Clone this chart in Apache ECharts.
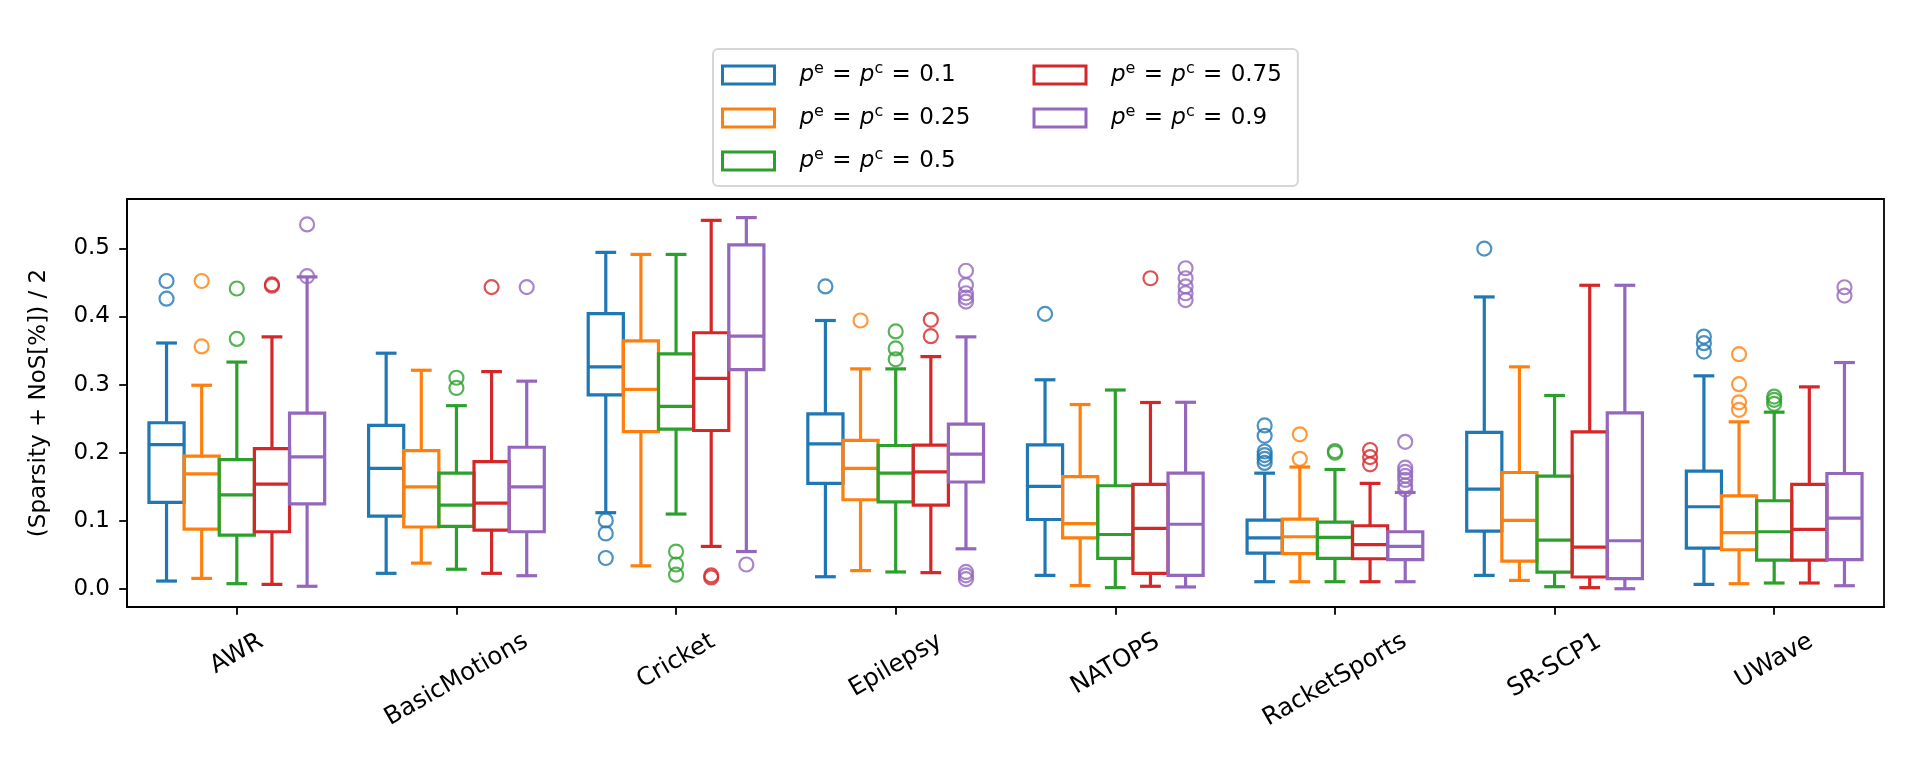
<!DOCTYPE html>
<html><head><meta charset="utf-8">
<script src="https://cdn.jsdelivr.net/npm/echarts@6/dist/echarts.min.js"></script>
<style>html,body{margin:0;padding:0;background:#fff}#c{width:1913px;height:766px}</style>
</head><body><div id="c"></div><script>
// ---- data ----
const categories = ['AWR','BasicMotions','Cricket','Epilepsy','NATOPS','RacketSports','SR-SCP1','UWave'];
const pValues = ['0.1','0.25','0.5','0.75','0.9'];
const colors = ['#1f77b4','#ff7f0e','#2ca02c','#d62728','#9467bd'];
const yTicks = [0, 0.1, 0.2, 0.3, 0.4, 0.5];

// [lower whisker, Q1, median, Q3, upper whisker] per category
const box_p01 = [
  [0.0117,0.127,0.212,0.244,0.361],
  [0.023,0.107,0.177,0.240,0.346],
  [0.112,0.285,0.326,0.404,0.494],
  [0.018,0.155,0.213,0.257,0.394],
  [0.020,0.102,0.1505,0.2116,0.307],
  [0.0107,0.0528,0.075,0.101,0.170],
  [0.020,0.085,0.1466,0.2297,0.4286],
  [0.0068,0.060,0.1207,0.173,0.3128]
];
const box_p025 = [
  [0.0156,0.088,0.169,0.195,0.299],
  [0.038,0.091,0.150,0.203,0.321],
  [0.034,0.231,0.293,0.364,0.491],
  [0.027,0.131,0.177,0.218,0.323],
  [0.005,0.075,0.096,0.165,0.2707],
  [0.0107,0.052,0.0767,0.1026,0.179],
  [0.0126,0.041,0.1006,0.171,0.326],
  [0.0078,0.0576,0.0826,0.1368,0.2453]
];
const box_p05 = [
  [0.0078,0.079,0.138,0.190,0.333],
  [0.029,0.092,0.123,0.170,0.269],
  [0.110,0.2346,0.268,0.345,0.491],
  [0.025,0.128,0.170,0.2106,0.323],
  [0.002,0.045,0.080,0.1515,0.292],
  [0.0107,0.045,0.0757,0.098,0.1754],
  [0.0034,0.0249,0.0718,0.1657,0.284],
  [0.0088,0.0425,0.084,0.1295,0.2595]
];
const box_p075 = [
  [0.0068,0.084,0.154,0.206,0.370],
  [0.023,0.0865,0.126,0.187,0.319],
  [0.0625,0.2326,0.309,0.376,0.541],
  [0.024,0.123,0.172,0.211,0.341],
  [0.004,0.023,0.089,0.1534,0.2737],
  [0.0107,0.0444,0.065,0.0928,0.155],
  [0.002,0.0176,0.0616,0.2306,0.4457],
  [0.0088,0.0425,0.0874,0.1534,0.2966]
];
const box_p09 = [
  [0.004,0.125,0.194,0.258,0.458],
  [0.0195,0.084,0.150,0.208,0.305],
  [0.055,0.322,0.371,0.505,0.545],
  [0.059,0.157,0.198,0.242,0.370],
  [0.003,0.020,0.095,0.170,0.274],
  [0.0107,0.043,0.0625,0.084,0.1417],
  [0.0004,0.0151,0.0708,0.2585,0.4457],
  [0.0048,0.043,0.104,0.1695,0.3323]
];
// outliers: [category index, value]
const out_p01 = [[0,0.452],[0,0.426],[2,0.1006],[2,0.0815],[2,0.0455],[3,0.444],[4,0.4037],
  [5,0.240],[5,0.2248],[5,0.2018],[5,0.1965],[5,0.191],[5,0.185],[6,0.4995],[7,0.3704],[7,0.3607],[7,0.3484]];
const out_p025 = [[0,0.452],[0,0.356],[3,0.394],[5,0.227],[5,0.191],[7,0.3446],[7,0.3006],[7,0.274],[7,0.263]];
const out_p05 = [[0,0.441],[0,0.367],[1,0.310],[1,0.295],[2,0.055],[2,0.036],[2,0.021],[3,0.378],[3,0.353],[3,0.337],
  [5,0.2025],[5,0.200],[7,0.2824],[7,0.2776],[7,0.2717]];
const out_p075 = [[0,0.447],[0,0.445],[1,0.443],[2,0.020],[2,0.017],[3,0.395],[3,0.371],[4,0.456],[5,0.204],[5,0.1935],[5,0.183]];
const out_p09 = [[0,0.535],[0,0.459],[1,0.443],[2,0.036],[3,0.467],[3,0.446],[3,0.434],[3,0.4276],[3,0.4217],
  [3,0.025],[3,0.020],[3,0.0145],[4,0.4707],[4,0.456],[4,0.444],[4,0.434],[4,0.424],
  [5,0.216],[5,0.178],[5,0.172],[5,0.166],[5,0.160],[5,0.152],[5,0.146],[7,0.4428],[7,0.4305]];

const boxes = [box_p01, box_p025, box_p05, box_p075, box_p09];
const outliers = [out_p01, out_p025, out_p05, out_p075, out_p09];

// ---- layout ----
const FONT = 'DejaVu Sans';
const FS = 23;
const FSX = 24.5;
const BOX_W = 0.16;
const LW = 3.2;
const GRID = {left: 127, right: 29, top: 199, bottom: 159};

function makeRender(color) {
  return function (params, api) {
    const x = api.value(0);
    const pLo = api.coord([x, api.value(1)]);
    const pQ1 = api.coord([x, api.value(2)]);
    const pMed = api.coord([x, api.value(3)]);
    const pQ3 = api.coord([x, api.value(4)]);
    const pHi = api.coord([x, api.value(5)]);
    const bw = api.size([BOX_W, 0])[0];
    const cw = bw / 2;
    const cx = pLo[0];
    const st = {stroke: color, lineWidth: LW, fill: null};
    const stc = {stroke: color, lineWidth: LW, fill: null, lineCap: 'square'};
    return {type: 'group', children: [
      {type: 'line', shape: {x1: cx, y1: pQ1[1], x2: cx, y2: pLo[1]}, style: st},
      {type: 'line', shape: {x1: cx, y1: pQ3[1], x2: cx, y2: pHi[1]}, style: st},
      {type: 'line', shape: {x1: cx - cw / 2, y1: pLo[1], x2: cx + cw / 2, y2: pLo[1]}, style: stc},
      {type: 'line', shape: {x1: cx - cw / 2, y1: pHi[1], x2: cx + cw / 2, y2: pHi[1]}, style: stc},
      {type: 'rect', shape: {x: cx - bw / 2, y: pQ3[1], width: bw, height: pQ1[1] - pQ3[1]},
        style: {stroke: color, lineWidth: LW, fill: null, lineJoin: 'miter'}},
      {type: 'line', shape: {x1: cx - bw / 2, y1: pMed[1], x2: cx + bw / 2, y2: pMed[1]}, style: st}
    ]};
  };
}

const series = [];
boxes.forEach((b, j) => {
  const off = (j - 2) * BOX_W;
  const name = 'p' + pValues[j];
  series.push({
    type: 'custom', name: name, renderItem: makeRender(colors[j]),
    itemStyle: {color: colors[j]},
    encode: {x: 0, y: [1, 2, 3, 4, 5]},
    data: b.map((r, i) => [i + off].concat(r)),
    z: 2 + j, silent: true
  });
  series.push({
    type: 'scatter', name: name, symbol: 'circle', symbolSize: 14,
    itemStyle: {color: 'rgba(255,255,255,0)', borderColor: colors[j], borderWidth: 2.2},
    data: outliers[j].map(o => [o[0] + off, o[1]]),
    z: 2 + j, silent: true
  });
});

// x axes: one per category label so each rotated label can be centred on its tick
// with its rotated bounding box top-aligned (as matplotlib does)
const cv = document.createElement('canvas').getContext('2d');
cv.font = FSX + 'px "' + FONT + '"';
const axisBottom = 766 - GRID.bottom;
const xAxes = categories.map((c, i) => {
  const w = cv.measureText(c).width;
  const capH = 0.729 * FSX;
  const centerY = 632 + 0.25 * w + 0.433 * capH;
  return {
    type: 'value', min: -0.5, max: 7.5, position: 'bottom', offset: 0,
    splitLine: {show: false},
    axisLine: {show: i === 0, onZero: false, lineStyle: {color: '#000', width: 1.8}},
    axisTick: {show: true, length: 7.8, lineStyle: {color: '#000', width: 1.8}, customValues: [i]},
    axisLabel: {
      customValues: [i], rotate: 30, align: 'center', verticalAlign: 'middle',
      margin: centerY - axisBottom,
      formatter: v => categories[Math.round(v)],
      fontFamily: FONT, fontSize: FSX, color: '#000'
    }
  };
});

const legendRich = {
  p1: {fontFamily: FONT, fontStyle: 'italic', fontSize: FS, color: '#000', padding: [0, 0, 0, 20], lineHeight: 28},
  p: {fontFamily: FONT, fontStyle: 'italic', fontSize: FS, color: '#000', lineHeight: 28},
  s: {fontFamily: FONT, fontSize: 16, color: '#000', verticalAlign: 'top', lineHeight: 20},
  eq: {fontFamily: FONT, fontSize: FS, color: '#000', lineHeight: 28, padding: [0, 1, 0, 1]},
  n: {fontFamily: FONT, fontSize: FS, color: '#000', lineHeight: 28}
};
function legendFmt(name) {
  const v = name.slice(1);
  return '{p1|p}{s|e}{eq| = }{p|p}{s|c}{eq| = }{n|' + v + '}';
}
function legendData(idx) {
  return idx.map(j => ({name: 'p' + pValues[j], icon: 'rect',
    itemStyle: {color: '#ffffff', borderColor: colors[j], borderWidth: 3}}));
}

const option = {
  animation: false,
  backgroundColor: '#ffffff',
  legend: [
    {
      left: 713, top: 49, orient: 'vertical', padding: [12, 16, 56.5, 319.5],
      itemWidth: 52, itemHeight: 18, itemGap: 17.5,
      backgroundColor: 'rgba(255,255,255,0.8)', borderColor: '#d6d6d6', borderWidth: 2, borderRadius: 5,
      data: legendData([3, 4]), formatter: legendFmt,
      textStyle: {rich: legendRich}, selectedMode: false, z: 4
    },
    {
      left: 721, top: 61, orient: 'vertical', padding: 0,
      itemWidth: 52, itemHeight: 18, itemGap: 17.5,
      data: legendData([0, 1, 2]), formatter: legendFmt,
      textStyle: {rich: legendRich}, selectedMode: false, z: 5
    }
  ],
  grid: Object.assign({show: true, borderColor: '#000', borderWidth: 1.8, backgroundColor: 'transparent'}, GRID),
  xAxis: xAxes,
  yAxis: {
    type: 'value', min: -0.0264, max: 0.5723,
    name: '(Sparsity + NoS[%]) / 2', nameLocation: 'middle', nameRotate: 90, nameGap: 76,
    nameTextStyle: {fontFamily: FONT, fontSize: FS, color: '#000'},
    splitLine: {show: false},
    axisLine: {show: true, onZero: false, lineStyle: {color: '#000', width: 1.8}},
    axisTick: {show: true, length: 7.8, lineStyle: {color: '#000', width: 1.8}, customValues: yTicks},
    axisLabel: {customValues: yTicks, formatter: v => v.toFixed(1), margin: 17,
      fontFamily: FONT, fontSize: FS, color: '#000'}
  },
  series: series
};

const chart = echarts.init(document.getElementById('c'), null, {renderer: 'canvas'});
chart.setOption(option);
</script></body></html>
